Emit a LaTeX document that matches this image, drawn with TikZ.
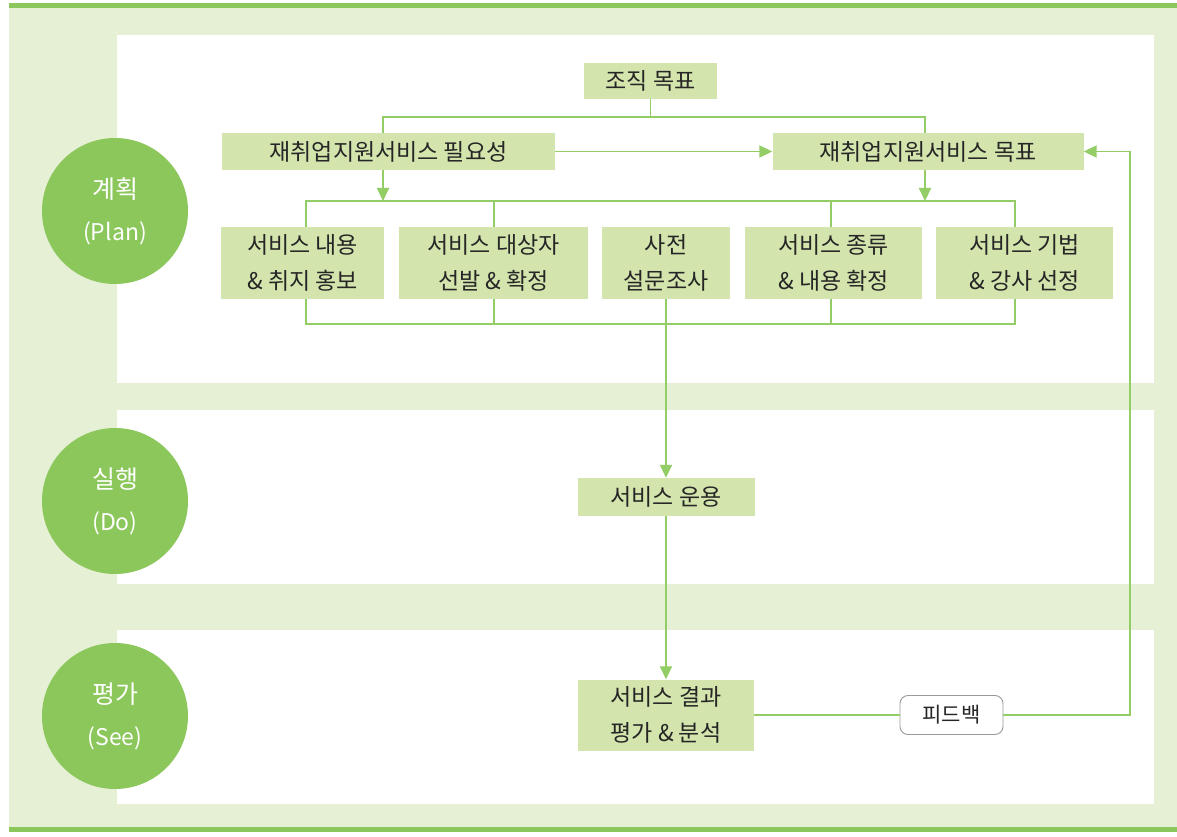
\documentclass[tikz,border=0pt]{standalone}
\usepackage{fontspec}
\setmainfont{Noto Sans CJK KR}
\usetikzlibrary{arrows.meta}
\definecolor{bg}{HTML}{E5F0D4}
\definecolor{gline}{HTML}{8BC75A}
\definecolor{boxf}{HTML}{D3E5AD}
\definecolor{conn}{HTML}{92CD65}
\definecolor{txt}{HTML}{262626}
\begin{document}
\begin{tikzpicture}[x=1pt,y=-1pt,
 box/.style={fill=boxf, inner sep=0pt, text=txt, font=\fontsize{23}{36}\selectfont, align=center},
 ln/.style={draw=conn, line width=1.8pt},
 arr/.style={ln, -{Triangle[length=13pt,width=12pt]}},
 circ/.style={circle, fill=gline, minimum size=146pt, inner sep=0pt, text=white, font=\fontsize{23}{42}\selectfont, align=center},
 fbbox/.style={draw=black!40, line width=0.9pt, fill=white, rounded corners=8pt, minimum width=103pt, minimum height=39pt, inner sep=0pt, text=txt, font=\fontsize{21}{24}\selectfont}]
\useasboundingbox (0,0) rectangle (1177,837);
\fill[white] (0,0) rectangle (1177,837);
\fill[bg] (9,8) rectangle (1177,827);
\fill[gline] (9,3) rectangle (1177,8);
\fill[gline] (9,827) rectangle (1177,832);
\fill[white] (117,35) rectangle (1154,383);
\fill[white] (117,410) rectangle (1154,584);
\fill[white] (117,630) rectangle (1154,804);

% circles
\node[circ] (c1) at (115,211) {{\fontsize{25}{42}\selectfont 계획}\\(Plan)};
\node[circ] (c2) at (115,501) {{\fontsize{25}{42}\selectfont 실행}\\(Do)};
\node[circ] (c3) at (115,716) {{\fontsize{25}{42}\selectfont 평가}\\(See)};

% boxes
\node[box, minimum width=133pt, minimum height=36pt] (goal) at (650.5,81) {조직 목표};
\node[box, minimum width=333pt, minimum height=37pt] (need) at (388.5,151.5) {재취업지원서비스 필요성};
\node[box, minimum width=311pt, minimum height=37pt] (obj) at (928,151.5) {재취업지원서비스 목표};
\node[box, minimum width=163pt, minimum height=72pt] (b1) at (302.5,263) {서비스 내용\\\& 취지 홍보};
\node[box, minimum width=189pt, minimum height=72pt] (b2) at (493.5,263) {서비스 대상자\\선발 \& 확정};
\node[box, minimum width=128pt, minimum height=72pt] (b3) at (666,263) {사전\\설문조사};
\node[box, minimum width=177pt, minimum height=72pt] (b4) at (833.5,263) {서비스 종류\\\& 내용 확정};
\node[box, minimum width=177pt, minimum height=72pt] (b5) at (1024.5,263) {서비스 기법\\\& 강사 선정};
\node[box, minimum width=177pt, minimum height=38pt] (run) at (666,497) {서비스 운용};
\node[box, minimum width=176pt, minimum height=71pt] (res) at (666,715) {서비스 결과\\평가 \& 분석};
\node[fbbox] (fb) at (951.5,715) {피드백};

% coordinates
\coordinate (tl) at (383,117);
\coordinate (tr) at (925,117);
\coordinate (busL) at (306,201);
\coordinate (busR) at (1015,201);
\coordinate (s2) at (494,201);
\coordinate (s4) at (831,201);
\coordinate (bb) at (0,324);
\coordinate (fbc) at (1130,715);

% connectors
\draw[ln] (goal.south) -- (goal.south |- tl);
\draw[ln] (need.north -| tl) -- (tl) -- (tr) -- (obj.north -| tr);
\draw[arr] (need.east) -- (obj.west);
\draw[arr] (tl |- need.south) -- (tl |- busL);
\draw[arr] (tr |- obj.south) -- (tr |- busR);
\draw[ln] (b1.north -| busL) -- (busL) -- (busR) -- (b5.north -| busR);
\draw[ln] (b2.north -| s2) -- (s2);
\draw[ln] (b4.north -| s4) -- (s4);
\draw[ln] (b1.south -| busL) -- (busL |- bb) -- (busR |- bb) -- (b5.south -| busR);
\draw[ln] (b2.south -| s2) -- (s2 |- bb);
\draw[ln] (b4.south -| s4) -- (s4 |- bb);
\draw[arr] (b3.south) -- (run.north);
\draw[arr] (run.south) -- (res.north);
\draw[ln] (res.east) -- (fb.west);
\draw[arr] (fb.east) -- (fbc) -- (fbc |- obj.east) -- (obj.east);
\end{tikzpicture}
\end{document}
